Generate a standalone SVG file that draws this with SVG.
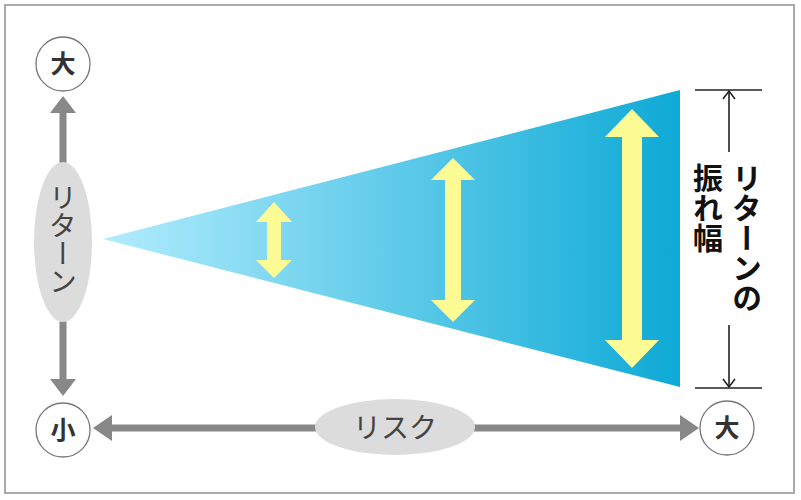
<svg xmlns="http://www.w3.org/2000/svg" width="801" height="500" viewBox="0 0 801 500">
<style>
.circ{fill:#fff;stroke:#777;stroke-width:1.3}
.ctxt{font-family:"Noto Sans CJK JP","Noto Sans",sans-serif;font-weight:bold;font-size:25px;fill:#333;text-anchor:middle}
.gline{fill:none;stroke:#888;stroke-width:7}
.ghead{fill:#888}
.oval{fill:#dcdcdc}
.ltxt{font-family:"Noto Sans CJK JP","Noto Sans",sans-serif;font-size:28px;fill:#444}
.yel{fill:#fdfb94}
.btxt{font-family:"Noto Sans CJK JP","Noto Sans",sans-serif;font-weight:bold;font-size:30px;fill:#111;writing-mode:vertical-rl}
.blk{stroke:#222;stroke-width:1.6;fill:none}
</style>
<defs>
<linearGradient id="grad" x1="103" y1="0" x2="680" y2="0" gradientUnits="userSpaceOnUse">
<stop offset="0" stop-color="#b2ecfd"/>
<stop offset="1" stop-color="#0eaad6"/>
</linearGradient>
</defs>
<rect x="5" y="5" width="789" height="488" fill="#fff" stroke="#aaa" stroke-width="2"/>
<g id="connectors">
<line class="gline" x1="63" y1="110" x2="63" y2="382"/>
<polygon class="ghead" points="63,96 76,113 50,113"/>
<polygon class="ghead" points="63,396 76,379 50,379"/>
<line class="gline" x1="108" y1="428" x2="684" y2="428"/>
<polygon class="ghead" points="93,428 112,415 112,441"/>
<polygon class="ghead" points="699,428 680,415 680,441"/>
</g>
<g id="returnLabel">
<ellipse class="oval" cx="63" cy="242" rx="29" ry="80"/>
<text class="ltxt" x="63" y="183" style="writing-mode:vertical-rl">リターン</text>
</g>
<g id="riskLabel">
<ellipse class="oval" cx="395" cy="427" rx="80" ry="28"/>
<text class="ltxt" x="395" y="438" text-anchor="middle">リスク</text>
</g>
<g id="topBig">
<circle class="circ" cx="63" cy="64" r="27"/>
<text class="ctxt" x="63" y="73">大</text>
</g>
<g id="small">
<circle class="circ" cx="63" cy="430" r="27"/>
<text class="ctxt" x="63" y="439">小</text>
</g>
<g id="rightBig">
<circle class="circ" cx="727" cy="428" r="27"/>
<text class="ctxt" x="727" y="437">大</text>
</g>
<g id="cone">
<polygon points="103,239 680,90 680,387" fill="url(#grad)"/>
<polygon class="yel" points="274,202 292,222 281,222 281,260 292,260 274,278 256,260 267,260 267,222 256,222"/>
<polygon class="yel" points="453,158 475,180 461,180 461,300 475,300 453,322 431,300 445,300 445,180 431,180"/>
<polygon class="yel" points="632,109 659,137 642,137 642,340 659,340 632,368 605,340 622,340 622,137 605,137"/>
</g>
<g id="bracket">
<line class="blk" x1="695" y1="90" x2="762" y2="90"/>
<line class="blk" x1="695" y1="388" x2="762" y2="388"/>
<line class="blk" x1="729" y1="91" x2="729" y2="152"/>
<polyline class="blk" points="723,99 729,91 735,99"/>
<line class="blk" x1="729" y1="325" x2="729" y2="387"/>
<polyline class="blk" points="723,379 729,387 735,379"/>
<text class="btxt" x="747" y="163">リターンの</text>
<text class="btxt" x="708" y="163">振れ幅</text>
</g>
</svg>
